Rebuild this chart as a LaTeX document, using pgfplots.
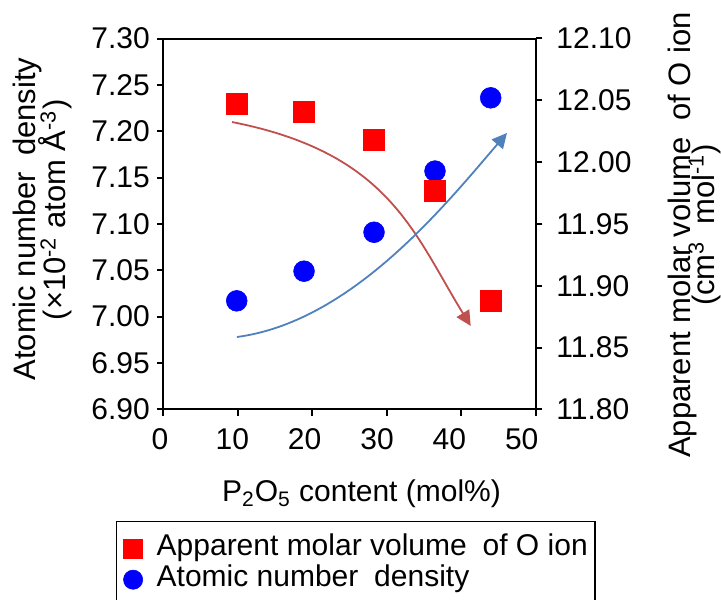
\documentclass[border=0pt]{standalone}
\usepackage{fontspec}
\setmainfont{Liberation Sans}
\usepackage{pgfplots}
\usepackage{pgfplotstable}
\pgfplotsset{compat=1.18}
\usetikzlibrary{arrows.meta}

\definecolor{markred}{HTML}{FF0000}
\definecolor{markblue}{HTML}{0000FF}
\definecolor{arrowred}{HTML}{C0504D}
\definecolor{arrowblue}{HTML}{4F81BD}

% P2O5 content (mol%) vs atomic number density (x10^-2 atom/A^3)
\pgfplotstableread{
x      y
9.85   7.017
18.88  7.049
28.27  7.091
36.45  7.157
43.92  7.236
}\densitydata

% P2O5 content (mol%) vs apparent molar volume of O ion (cm^3/mol)
\pgfplotstableread{
x      y
9.85   12.047
18.88  12.041
28.27  12.018
36.45  11.977
43.92  11.888
}\volumedata

\pgfplotsset{
  base/.style={
    scale only axis, width=186.35pt, height=185.4pt,
    xmin=0, xmax=50,
    axis line style={line width=1pt},
    tick style={line width=1pt, black},
    major tick length=3.2pt,
    tick label style={font=\fontsize{15}{18}\selectfont},
    /pgf/number format/assume math mode=true,
    yticklabel style={/pgf/number format/fixed,
      /pgf/number format/fixed zerofill,
      /pgf/number format/precision=2},
  },
}
\newcommand\labfont{\fontsize{15.5}{18}\selectfont}

\begin{document}
\begin{tikzpicture}
% left axis: atomic number density
\begin{axis}[base,
  ymin=6.9, ymax=7.3,
  ytick={6.9,6.95,7,7.05,7.1,7.15,7.2,7.25,7.3},
  xtick={0,10,20,30,40,50},
  xtick pos=bottom, ytick pos=left,
  tick align=outside,
  xticklabel style={yshift=-3pt},
  xticklabel={\pgfmathsetlengthmacro\xs{-3.3pt-2.2pt*\ticknum}\hspace*{\xs}\pgfmathprintnumber{\tick}},
]
  \draw[arrowred, line width=0.9pt, -{Triangle[length=7.5pt,width=7.3pt]}]
    (axis cs:9.22,7.2099) .. controls (axis cs:30.28,7.1765)
    and (axis cs:33.50,7.0913) .. (axis cs:41.24,6.9899);
  \draw[arrowblue, line width=0.9pt, -{Triangle[length=7.5pt,width=7.3pt]}]
    (axis cs:9.88,6.978) .. controls (axis cs:25.05,6.9942)
    and (axis cs:37.39,7.1161) .. (axis cs:46.11,7.1981);
  \addplot[only marks, mark=*, mark size=5.2pt, color=markblue,
    mark options={line width=0.3pt}] table[x=x, y=y] {\densitydata};
\end{axis}
% right axis: apparent molar volume of O ion
\begin{axis}[base,
  ymin=11.8, ymax=12.1,
  ytick={11.8,11.85,11.9,11.95,12,12.05,12.1},
  axis x line=none, axis y line*=right,
  tick align=outside,
  yticklabel style={xshift=3.5pt},
  legend cell align=left,
  legend image code/.code={\draw[#1, mark size=4.8pt] plot coordinates {(5pt,0pt)};},
  legend style={at={(-0.1277,-0.3004)}, anchor=north west,
    draw=black, line width=0.8pt,
    inner xsep=3.5pt, inner ysep=6pt,
    font=\fontsize{15}{18}\selectfont,
    nodes={inner sep=0pt, text height=11pt, text depth=4.4pt},
    row sep=0pt, column sep=7pt},
]
  \addplot[only marks, mark=square*, mark size=5.2pt, color=markred,
    mark options={line width=0.3pt}] table[x=x, y=y] {\volumedata};
  \addlegendentry{Apparent molar volume\hspace{0.25em} of O ion\hspace{3.3pt}}
  \addlegendimage{only marks, mark=*, color=markblue, mark options={line width=0.3pt}}
  \addlegendentry{Atomic number\hspace{0.25em} density}
\end{axis}
% axis titles
\node[rotate=90, anchor=base, font=\labfont] at (-63.65pt,95.15pt)
  {Atomic number\hspace{0.25em} density};
\node[rotate=90, anchor=base, font=\labfont] at (-48.65pt,99.65pt)
  {(×10\textsuperscript{-2} atom Å\textsuperscript{-3})};
\node[rotate=90, anchor=base, font=\labfont] at (263.35pt,87.15pt)
  {Apparent molar volume\hspace{0.25em} of O ion};
\node[rotate=90, anchor=base, font=\labfont] at (275.35pt,92.15pt)
  {(cm\textsuperscript{3}\hspace{0.25em} mol\textsuperscript{-1})};
\node[anchor=base, font=\fontsize{15}{18}\selectfont] at (99.1pt,-46.1pt)
  {P\textsubscript{2}O\textsubscript{5} content (mol\%)};
\pgfresetboundingbox
\path[use as bounding box] (-81.65pt,-94.85pt) rectangle (278.85pt,204.65pt);
\end{tikzpicture}
\end{document}
